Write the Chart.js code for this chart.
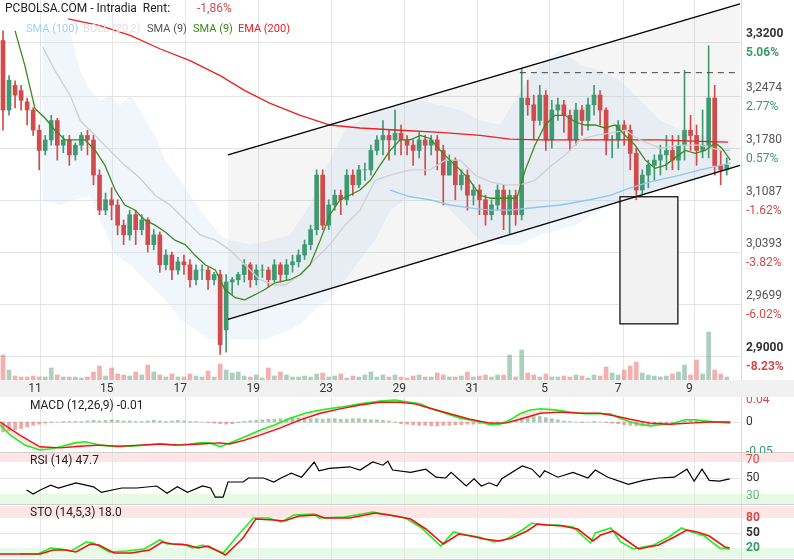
<!DOCTYPE html>
<html><head><meta charset="utf-8">
<script src="https://cdn.jsdelivr.net/npm/chart.js@4/dist/chart.umd.min.js"></script>
<style>
body{margin:0;background:#fff;width:794px;height:560px;overflow:hidden;font-family:Roboto,sans-serif}
.p{position:absolute;left:0;width:794px}
</style></head><body>
<div class="p" style="top:0;height:397px"><canvas id="main"></canvas></div>
<div class="p" style="top:397px;height:56px"><canvas id="macd"></canvas></div>
<div class="p" style="top:453px;height:52px"><canvas id="rsi"></canvas></div>
<div class="p" style="top:505px;height:55px"><canvas id="sto"></canvas></div>
<script>
const dateLabels=['11','15','17','19','23','29','31','5','7','9'];
const dateIdx=[5.3,17.2,29.4,41.5,53.6,65.7,77.8,89.8,102,113.8];
const priceTicks=[3.32,3.2474,3.178,3.1087,3.0393,2.9699,2.90];
const priceTickText=['3,3200','3,2474','3,1780','3,1087','3,0393','2,9699','2,9000'];
const pctText=['5.06%','2.77%','0.57%','-1.62%','-3.82%','-6.02%','-8.23%'];
const legendItems=['SMA (100)','BOLL (20,2)','SMA (9)','SMA (9)','EMA (200)'];
const opens=[3.322,3.229,3.262,3.255,3.240,3.229,3.202,3.175,3.189,3.215,3.182,3.189,3.169,3.182,3.195,3.189,3.142,3.095,3.109,3.102,3.075,3.062,3.089,3.069,3.082,3.049,3.062,3.022,3.035,3.015,3.026,3.022,3.002,3.015,3.015,3.002,3.009,2.935,2.999,3.002,3.009,3.022,3.002,3.015,3.015,3.002,3.022,3.009,3.022,3.026,3.035,3.049,3.069,3.142,3.075,3.102,3.115,3.109,3.142,3.129,3.149,3.149,3.175,3.189,3.195,3.189,3.198,3.189,3.182,3.175,3.189,3.182,3.189,3.175,3.142,3.162,3.129,3.142,3.115,3.122,3.109,3.089,3.102,3.122,3.089,3.115,3.089,3.245,3.236,3.215,3.249,3.189,3.229,3.236,3.222,3.189,3.229,3.215,3.236,3.249,3.229,3.189,3.189,3.209,3.202,3.171,3.122,3.142,3.155,3.162,3.169,3.175,3.162,3.182,3.202,3.195,3.175,3.182,3.245,3.155,3.149];
const closes=[3.229,3.269,3.249,3.242,3.229,3.202,3.175,3.189,3.215,3.182,3.189,3.169,3.182,3.195,3.189,3.142,3.095,3.109,3.102,3.075,3.062,3.089,3.069,3.082,3.049,3.062,3.022,3.035,3.015,3.026,3.022,3.002,3.015,3.015,3.002,3.009,2.915,2.999,3.002,3.009,3.022,3.002,3.015,3.015,3.002,3.022,3.009,3.022,3.026,3.035,3.049,3.069,3.142,3.075,3.102,3.115,3.109,3.142,3.129,3.149,3.149,3.175,3.189,3.195,3.189,3.198,3.189,3.182,3.175,3.189,3.182,3.189,3.175,3.142,3.162,3.129,3.142,3.115,3.122,3.109,3.089,3.102,3.122,3.089,3.115,3.089,3.245,3.236,3.215,3.249,3.189,3.229,3.236,3.222,3.189,3.229,3.215,3.236,3.249,3.229,3.189,3.189,3.209,3.202,3.171,3.122,3.142,3.155,3.162,3.169,3.175,3.162,3.182,3.202,3.195,3.175,3.182,3.245,3.155,3.149,3.155];
const highs=[3.335,3.275,3.268,3.262,3.245,3.232,3.209,3.195,3.222,3.218,3.195,3.195,3.185,3.199,3.202,3.195,3.149,3.118,3.125,3.109,3.082,3.095,3.095,3.089,3.085,3.069,3.066,3.042,3.039,3.032,3.035,3.029,3.022,3.022,3.019,3.012,3.015,3.009,3.005,3.012,3.029,3.025,3.022,3.022,3.019,3.029,3.025,3.029,3.035,3.042,3.055,3.075,3.149,3.149,3.109,3.122,3.122,3.149,3.149,3.155,3.158,3.182,3.195,3.215,3.202,3.229,3.209,3.195,3.189,3.199,3.195,3.195,3.195,3.182,3.169,3.165,3.149,3.149,3.129,3.129,3.115,3.109,3.129,3.129,3.122,3.122,3.285,3.269,3.249,3.262,3.255,3.242,3.245,3.242,3.229,3.238,3.235,3.245,3.262,3.255,3.232,3.195,3.215,3.215,3.209,3.178,3.149,3.162,3.169,3.182,3.195,3.195,3.195,3.282,3.222,3.209,3.229,3.315,3.262,3.175,3.165];
const lows=[3.202,3.222,3.232,3.229,3.209,3.195,3.149,3.169,3.182,3.162,3.172,3.155,3.162,3.175,3.169,3.129,3.089,3.089,3.082,3.062,3.049,3.055,3.049,3.062,3.039,3.042,3.012,3.015,3.002,3.009,3.009,2.992,2.995,3.002,2.989,2.995,2.902,2.905,2.982,2.995,2.999,2.992,2.995,3.005,2.992,2.999,2.999,3.002,3.012,3.019,3.029,3.042,3.062,3.069,3.069,3.095,3.089,3.102,3.115,3.125,3.135,3.142,3.169,3.169,3.162,3.169,3.169,3.169,3.155,3.165,3.142,3.169,3.149,3.102,3.142,3.109,3.122,3.095,3.102,3.089,3.075,3.082,3.095,3.069,3.062,3.075,3.082,3.222,3.189,3.209,3.175,3.178,3.215,3.199,3.175,3.182,3.195,3.202,3.222,3.209,3.169,3.165,3.178,3.182,3.149,3.109,3.115,3.125,3.135,3.142,3.149,3.149,3.149,3.162,3.175,3.155,3.165,3.165,3.142,3.129,3.142];
const volumes=[25,10,4,3,3,4,3,3,12,5,3,3,3,2,3,8,14,4,12,6,5,4,8,5,15,8,5,3,6,3,3,6,4,3,9,3,16,10,7,8,4,3,5,2,12,4,8,5,3,3,4,3,6,7,3,4,6,2,4,3,5,8,3,5,3,5,3,2,4,5,3,3,7,5,3,3,4,8,3,4,5,3,5,5,25,3,30,7,5,3,6,3,3,4,3,5,4,2,5,4,13,7,5,10,14,18,7,5,4,3,4,6,8,15,5,20,6,48,10,6,3];
const sma9=[[2,3.335],[3.6,3.289],[5.3,3.231],[7,3.218],[8.6,3.202],[10.3,3.189],[11.9,3.189],[13.6,3.189],[15.3,3.175],[16.9,3.155],[18.6,3.122],[20.2,3.102],[21.9,3.095],[23.5,3.082],[25.2,3.075],[26.9,3.066],[28.5,3.055],[30.2,3.049],[31.8,3.035],[33.5,3.022],[35.2,3.015],[36.8,2.989],[38.5,2.978],[40.1,2.975],[41.8,2.982],[43.4,2.989],[45.1,2.998],[47.6,3.002],[49.3,3.009],[50.9,3.022],[52.6,3.055],[54.2,3.089],[55.9,3.109],[57.5,3.115],[59.2,3.122],[60.9,3.135],[62.5,3.155],[64.2,3.175],[65.8,3.189],[67.5,3.189],[69.2,3.195],[70.8,3.191],[72.5,3.175],[74.1,3.162],[75.8,3.149],[77.4,3.135],[79.1,3.115],[80.8,3.111],[82.4,3.111],[84.1,3.111],[85.2,3.111],[86.6,3.149],[88.2,3.182],[89.9,3.209],[91.5,3.222],[93.2,3.222],[94.9,3.213],[96.5,3.209],[98.2,3.209],[99.8,3.205],[101.5,3.209],[103.2,3.195],[104.8,3.182],[106.5,3.162],[108.1,3.151],[109.8,3.155],[111.4,3.165],[113.1,3.175],[114.8,3.171],[116.4,3.175],[118.1,3.185],[119.2,3.178],[120.6,3.162]];
const sma20=[[6.6,3.313],[8.6,3.282],[11.1,3.249],[12.8,3.215],[15.3,3.195],[17.7,3.175],[20.2,3.155],[22.7,3.138],[25.2,3.115],[27.7,3.102],[30.2,3.082],[32.7,3.062],[35.2,3.055],[37.6,3.042],[40.1,3.022],[42.6,3.002],[45.1,2.995],[46.8,2.995],[49.3,3.009],[51.7,3.029],[54.2,3.049],[56.7,3.075],[59.2,3.095],[61.7,3.135],[64.2,3.142],[67.5,3.149],[70.8,3.149],[73.3,3.162],[75.8,3.162],[78.3,3.142],[80.8,3.133],[83.3,3.129],[85.7,3.129],[88.2,3.135],[90.7,3.153],[93.2,3.169],[95.7,3.189],[98.2,3.195],[100.7,3.198],[103.2,3.202],[105.6,3.189],[109,3.178],[112.3,3.182],[115.6,3.182],[118.9,3.175],[120.6,3.175]];
const ema200=[[10.8,3.351],[16.1,3.342],[21.1,3.329],[26,3.311],[31,3.295],[36,3.275],[40.1,3.255],[44.3,3.238],[49.3,3.222],[54.2,3.209],[59.2,3.205],[65.8,3.202],[72.5,3.199],[79.1,3.195],[84.1,3.190],[89.1,3.189],[95.7,3.189],[102.3,3.189],[109,3.189],[115.6,3.187],[120.2,3.186]];
const sma100=[[64.2,3.122],[67.5,3.113],[70.8,3.109],[74.1,3.102],[77.4,3.098],[80.8,3.095],[84.1,3.095],[87.4,3.098],[92.4,3.102],[97.3,3.109],[100.7,3.115],[104,3.125],[107.3,3.133],[112.3,3.142],[115.6,3.149],[120.6,3.158]];
const bollUp=[[6.6,3.335],[11.1,3.335],[12.8,3.282],[14.4,3.255],[16.1,3.242],[17.7,3.249],[19.4,3.235],[21.1,3.249],[22.7,3.229],[25.2,3.195],[26.9,3.162],[29.4,3.135],[32.7,3.095],[36,3.062],[37.6,3.055],[41,3.049],[44.3,3.055],[47.6,3.062],[50.9,3.102],[54.2,3.162],[56.7,3.202],[59.2,3.215],[62.5,3.229],[65.8,3.235],[69.2,3.242],[72.5,3.235],[75.8,3.229],[79.1,3.215],[82.4,3.209],[84.9,3.242],[87.4,3.275],[89.9,3.295],[92.4,3.309],[95.7,3.289],[99,3.282],[102.3,3.269],[105.6,3.242],[109,3.215],[112.3,3.202],[115.6,3.195],[120.6,3.189]];
const bollLo=[[6.6,3.109],[9.5,3.102],[11.9,3.109],[14.4,3.115],[16.1,3.082],[18.6,3.035],[21.1,3.022],[23.5,3.002],[26.9,2.975],[29.4,2.949],[31.8,2.935],[34.3,2.922],[36.8,2.922],[40.1,2.922],[43.4,2.922],[45.9,2.929],[49.3,2.942],[51.7,2.962],[54.2,2.975],[56.7,3.002],[59.2,3.029],[61.7,3.055],[64.2,3.095],[66.7,3.109],[69.2,3.115],[72.5,3.109],[75.8,3.082],[79.1,3.055],[82.4,3.049],[85.7,3.049],[89.1,3.062],[92.4,3.069],[94.9,3.075],[99,3.095],[102.3,3.109],[105.6,3.115],[109,3.125],[113.9,3.135],[117.2,3.142],[120.6,3.149]];
const channelUp=[[37.3,3.169],[122.2,3.371]];
const channelLo=[[37.3,2.949],[122.2,3.155]];
const resistance=[[85.7,3.279],[122,3.279]];
const boxRect=[[102.3,3.113],[111.9,2.943]];
const macdHistK=[-18,-16,-14,-12,-9,-6,-4,-2,-1,0,1,1,1,1,2,3,2,3,4,3,2,2,1,1,2,3,2,1,2,3,2,1,1,0,-1,-2,-3,-4,-3,-1,1,2,3,4,5,5,6,6,7,7,7,6,6,5,6,6,5,5,6,6,5,4,4,3,2,-1,-3,-4,-5,-6,-6,-7,-7,-6,-6,-5,-5,-4,-4,-3,-3,-3,-2,-1,0,3,7,9,10,10,8,6,4,2,1,0,-1,0,1,0,-1,-2,-3,-5,-6,-7,-7,-6,-5,-4,-3,-1,1,2,3,3,2,1,0,-1,-1];
const macdLineK=[[-0.5,-5],[1.2,-24],[3.6,-42],[6.1,-51],[7.8,-49],[9.5,-45],[11.9,-38],[13.6,-36],[16.1,-42],[18.6,-45],[21.1,-44],[23.5,-42],[26,-40],[28.5,-42],[31,-40],[32.7,-38],[34.3,-38],[36,-45],[37.6,-38],[40.1,-27],[42.6,-15],[45.1,-5],[47.6,7],[50.1,16],[52.6,22],[55.9,27],[59.2,33],[62.5,38],[65,40],[67.5,36],[69.2,33],[70.8,25],[73.3,16],[75.8,7],[78.3,2],[80.8,-5],[82.4,-4],[84.1,4],[85.7,15],[87.4,22],[89.1,24],[91.5,22],[94,18],[96.5,15],[99,15],[100.7,15],[102.3,7],[104,0],[105.6,-4],[107.3,-7],[109,-5],[110.6,-4],[113.1,4],[114.8,4],[116.4,2],[118.1,0],[120.6,-2]];
const macdSignalK=[[-0.5,0],[2.8,-24],[6.1,-45],[9.5,-47],[12.8,-44],[16.1,-42],[19.4,-44],[22.7,-42],[26,-40],[29.4,-42],[32.7,-40],[36,-38],[37.6,-40],[40.1,-33],[42.6,-24],[45.9,-11],[49.3,4],[52.6,16],[55.9,24],[59.2,31],[62.5,36],[65.8,36],[68.3,33],[70.8,25],[74.1,15],[77.4,5],[80.8,-2],[83.3,-2],[85.7,5],[89.1,16],[92.4,18],[95.7,16],[99,16],[101.5,11],[104,5],[107.3,-2],[110.6,-4],[113.9,-2],[117.2,0],[120.6,0]];
const rsiPts=[[3.9,35],[5,30],[6.2,35],[7.9,41],[9.2,37.5],[12.1,44],[15,39],[16.3,32],[19.7,37.5],[22.2,37.5],[25.5,40],[27.2,31],[28.9,39],[30.6,32],[33.1,40],[34.4,37.5],[35.2,26],[36.5,26],[37.3,45],[39.8,45],[40.7,50],[43.2,50],[44.9,45],[46.1,50],[47.8,56],[49.5,51],[51.6,70],[52.4,59],[54.1,62],[57.5,64],[59.2,60],[61.3,70],[63,66],[63.8,71],[64.6,60],[67.6,57],[70.1,61],[71.8,51],[73.4,50],[74.3,57],[76.8,40],[78.1,49],[79.3,40],[80.6,44],[81.9,40],[82.7,49],[86.1,65],[87.7,61],[89,51],[89.8,59],[92,51],[94.5,57],[97,50],[98.2,60],[100.3,51],[103.7,42],[106.2,47],[108.7,50],[111.3,51],[113.4,61],[114.6,46],[115.9,61],[117.1,47],[118.8,46],[120.5,49]];
const stoK=[[2.9,8],[5.8,8],[7.9,20],[9.6,18],[11.3,14],[13.8,32],[15,30],[17.6,12],[20.5,14],[23.4,18],[26,36],[27.2,28],[29.8,28],[31.4,20],[33.1,26],[36.5,10],[39,46],[41.5,80],[44,80],[46.1,72],[48.2,86],[51.6,88],[52.4,80],[56.6,82],[61.3,92],[64.2,86],[66.7,80],[69.2,62],[72.6,24],[74.7,52],[76.8,46],[78.9,42],[81.4,32],[83.5,38],[86.1,56],[87.7,70],[89.4,66],[92,66],[94.5,62],[97.4,30],[98.2,50],[100.8,60],[102.4,32],[104.5,18],[107.9,26],[110.4,42],[112.5,60],[114.2,52],[116.3,44],[118.8,20],[120.5,18]];
const stoD=[[-0.5,8],[2.4,8],[6.2,8],[8.3,16],[10.4,16],[12.1,12],[14.5,28],[15.9,26],[18.4,10],[21.3,10],[24.3,16],[26.4,32],[28.1,28],[30.6,26],[32.3,20],[34,24],[36.9,6],[39.8,40],[41.9,78],[44.9,76],[46.6,74],[49.1,84],[52,86],[53.3,80],[57.5,80],[61.7,90],[65,84],[67.6,78],[70.1,58],[73,28],[75.6,48],[77.6,44],[79.8,38],[82.3,34],[84.4,40],[86.9,54],[88.6,68],[90.3,66],[92.8,64],[95.3,58],[97.8,34],[99.1,46],[101.2,54],[103.3,36],[105.4,18],[108.7,26],[111.3,42],[113.4,56],[115.1,52],[117.1,44],[119.7,22],[120.5,20]];

const GREEN='#3f9a72', RED='#d24a4a', FONT='Roboto, sans-serif';
const XMIN=-0.5, XMAX=122.2;
const pts=a=>a.map(p=>({x:p[0],y:p[1]}));
const idx=closes.map((_,i)=>i);
const up=idx.map(i=>closes[i]>=opens[i]);
function xScale(){return {type:'linear',min:XMIN,max:XMAX,display:false,offset:false,grid:{offset:false}};}
const baseOpts=(extra)=>Object.assign({responsive:false,animation:false,maintainAspectRatio:false,
  layout:{padding:{left:0,right:54,top:0,bottom:0}},
  plugins:{legend:{display:false},tooltip:{enabled:false}}},extra);
function line(data,color,w,yid){return {type:'line',data:pts(data),borderColor:color,borderWidth:w||1.2,pointRadius:0,tension:0,fill:false,yAxisID:yid||'y',order:1};}
function poly(ctx,chart,a,b){const xs=chart.scales.x,ys=chart.scales.y;ctx.beginPath();
  a.forEach((p,k)=>{const X=xs.getPixelForValue(p[0]),Y=ys.getPixelForValue(p[1]);k?ctx.lineTo(X,Y):ctx.moveTo(X,Y);});
  b.slice().reverse().forEach(p=>ctx.lineTo(xs.getPixelForValue(p[0]),ys.getPixelForValue(p[1])));ctx.closePath();}
function vgrid(ctx,chart,top,bot){const xs=chart.scales.x;ctx.strokeStyle='#e6e6e6';ctx.lineWidth=1;
  dateIdx.forEach(d=>{const X=Math.round(xs.getPixelForValue(d+0.8))+0.5;ctx.beginPath();ctx.moveTo(X,top);ctx.lineTo(X,bot);ctx.stroke();});}

function setup(id,w,h){const c=document.getElementById(id);c.width=w;c.height=h;c.style.width=w+'px';c.style.height=h+'px';return c;}

const mainCanvas=setup('main',794,397);
new Chart(mainCanvas,{type:'bar',
 data:{datasets:[
  line(sma9,'#3d8a1a',1.3),line(sma20,'#cfcfcf',1.3),line(ema200,'#ee2020',1.3),line(sma100,'#8cc8f0',1.3),
  {type:'bar',data:idx.map(i=>({x:i,y:[opens[i],closes[i]]})),backgroundColor:idx.map(i=>up[i]?GREEN:RED),barThickness:4,grouped:false,order:2,yAxisID:'y'},
  {type:'bar',data:idx.map(i=>({x:i,y:[lows[i],highs[i]]})),backgroundColor:idx.map(i=>up[i]?GREEN:RED),barThickness:1,grouped:false,order:3,yAxisID:'y'},
  {type:'bar',data:idx.map(i=>({x:i,y:volumes[i]})),backgroundColor:idx.map(i=>up[i]?'rgba(90,160,125,0.5)':'rgba(235,110,110,0.55)'),barThickness:4,grouped:false,order:5,yAxisID:'v'}
 ]},
 options:baseOpts({layout:{padding:{left:0,right:54,top:0,bottom:17}},
  scales:{x:xScale(),y:{min:2.8679,max:3.3762,display:false},v:{min:0,max:380,display:false}}}),
 plugins:[{id:'mainDeco',
  beforeDatasetsDraw(chart){const ctx=chart.ctx,ys=chart.scales.y,xs=chart.scales.x;ctx.save();
   vgrid(ctx,chart,0,380);
   ctx.strokeStyle='#e4e4e4';priceTicks.forEach(p=>{const Y=Math.round(ys.getPixelForValue(p))+0.5;ctx.beginPath();ctx.moveTo(0,Y);ctx.lineTo(744,Y);ctx.stroke();});
   poly(ctx,chart,bollUp,bollLo);ctx.fillStyle='rgba(210,225,245,0.3)';ctx.fill();
   poly(ctx,chart,channelUp,channelLo);ctx.fillStyle='rgba(0,0,0,0.04)';ctx.fill();
   const bx1=xs.getPixelForValue(boxRect[0][0]),bx2=xs.getPixelForValue(boxRect[1][0]),by1=ys.getPixelForValue(boxRect[0][1]),by2=ys.getPixelForValue(boxRect[1][1]);
   ctx.fillStyle='#f2f2f2';ctx.fillRect(bx1,by1,bx2-bx1,by2-by1);ctx.strokeStyle='#000';ctx.lineWidth=1.2;ctx.strokeRect(bx1,by1,bx2-bx1,by2-by1);
   ctx.restore();},
  afterDatasetsDraw(chart){const ctx=chart.ctx,ys=chart.scales.y,xs=chart.scales.x;ctx.save();
   ctx.strokeStyle='#000';ctx.lineWidth=1.4;
   [channelUp,channelLo].forEach(l=>{ctx.beginPath();ctx.moveTo(xs.getPixelForValue(l[0][0]),ys.getPixelForValue(l[0][1]));ctx.lineTo(xs.getPixelForValue(l[1][0]),ys.getPixelForValue(l[1][1]));ctx.stroke();});
   ctx.setLineDash([6,5]);ctx.strokeStyle='#444';ctx.lineWidth=1;ctx.beginPath();
   ctx.moveTo(xs.getPixelForValue(resistance[0][0]),ys.getPixelForValue(resistance[0][1]));ctx.lineTo(xs.getPixelForValue(resistance[1][0]),ys.getPixelForValue(resistance[1][1]));ctx.stroke();ctx.setLineDash([]);
   ctx.fillStyle='#fff';ctx.fillRect(742,0,52,380);
   ctx.strokeStyle='#ddd';ctx.beginPath();ctx.moveTo(741.5,0);ctx.lineTo(741.5,380);ctx.stroke();
   priceTicks.forEach((p,k)=>{const Y=ys.getPixelForValue(p);const bold=(k==0||k==6);
    ctx.font=(bold?'bold ':'')+'12px '+FONT;ctx.fillStyle=bold?'#333':'#555';ctx.textBaseline='middle';ctx.textAlign='left';
    ctx.fillText(priceTickText[k],746,Y-8);
    ctx.fillStyle=pctText[k][0]=='-'?'#d24a4a':'#3a9a6a';ctx.fillText(pctText[k],746,Y+11);});
   ctx.fillStyle='#f1f1f1';ctx.fillRect(0,380,794,17);
   ctx.font='12px '+FONT;ctx.fillStyle='#333';ctx.textAlign='center';ctx.textBaseline='middle';
   dateIdx.forEach((d,k)=>ctx.fillText(dateLabels[k],xs.getPixelForValue(d),389));
   ctx.textAlign='left';ctx.font='12px '+FONT;ctx.fillStyle='#222';ctx.fillText('PCBOLSA.COM - Intradia  Rent:',5,9);
   ctx.fillStyle='#d24a4a';ctx.fillText('-1,86%',197,9);
   ctx.font='11px '+FONT;
   const lx=[26,83,147,193,238],lc=['#9fd0f5','#e0e0e0','#555','#3d8a1a','#ee2020'];
   legendItems.forEach((t,k)=>{ctx.fillStyle=lc[k];ctx.fillText(t,lx[k],29);});
   ctx.restore();}}]
});

function panelDeco(title,labels,bands,grids,extraFill){return {id:'pd'+title.slice(0,3),
  beforeDatasetsDraw(chart){const ctx=chart.ctx,ys=chart.scales.y;ctx.save();
   bands.forEach(b=>{const y1=ys.getPixelForValue(b[0]),y2=ys.getPixelForValue(b[1]);ctx.fillStyle=b[2];ctx.fillRect(0,y1,794,y2-y1);});
   vgrid(ctx,chart,0,chart.height);
   ctx.strokeStyle='#e4e4e4';grids.forEach(g=>{const Y=Math.round(ys.getPixelForValue(g))+0.5;ctx.beginPath();ctx.moveTo(0,Y);ctx.lineTo(742,Y);ctx.stroke();});
   if(extraFill)extraFill(ctx,chart);
   ctx.restore();},
  afterDatasetsDraw(chart){const ctx=chart.ctx,ys=chart.scales.y;ctx.save();
   ctx.strokeStyle='#ddd';ctx.beginPath();ctx.moveTo(741.5,0);ctx.lineTo(741.5,chart.height);ctx.stroke();
   ctx.strokeStyle='#d0d0d0';ctx.beginPath();ctx.moveTo(0,chart.height-0.5);ctx.lineTo(794,chart.height-0.5);ctx.stroke();
   ctx.font='12px '+FONT;ctx.fillStyle='#222';ctx.textBaseline='middle';ctx.textAlign='left';ctx.fillText(title,30,title.startsWith('MACD')?9:8);
   labels.forEach(l=>{ctx.font=(l[3]?'bold ':'')+'12px '+FONT;ctx.fillStyle=l[2];ctx.fillText(l[1],746,ys.getPixelForValue(l[0]));});
   ctx.restore();}};}

setup('macd',794,56);
new Chart(document.getElementById('macd'),{type:'bar',
 data:{datasets:[
  {type:'line',data:pts(macdLineK),borderColor:'#22ee22',borderWidth:1.6,pointRadius:0,order:2},
  {type:'line',data:pts(macdSignalK),borderColor:'#ee1111',borderWidth:1.4,pointRadius:0,order:1},
  {type:'bar',data:idx.map(i=>({x:i,y:macdHistK[i]})),backgroundColor:idx.map(i=>macdHistK[i]>=0?'rgba(110,165,130,0.6)':'rgba(225,110,110,0.6)'),barThickness:3,order:3}
 ]},
 options:baseOpts({scales:{x:xScale(),y:{min:-56.4,max:45.5,display:false}}}),
 plugins:[panelDeco('MACD (12,26,9) -0.01',[[40,'0.04','#d24a4a'],[0,'0','#333'],[-55,'-0.05','#3a9a6a']],[],[0],
  (ctx,chart)=>{poly(ctx,chart,macdLineK,macdSignalK);ctx.fillStyle='rgba(240,130,130,0.22)';ctx.fill();})]
});

setup('rsi',794,52);
new Chart(document.getElementById('rsi'),{type:'line',
 data:{datasets:[{data:pts(rsiPts),borderColor:'#000',borderWidth:1.2,pointRadius:0}]},
 options:baseOpts({scales:{x:xScale(),y:{min:16.25,max:81.25,display:false}}}),
 plugins:[panelDeco('RSI (14) 47.7',[[72,'70','#d24a4a'],[50,'50','#333'],[27,'30','#6ab88a']],[[81.25,70,'rgba(255,90,90,0.15)'],[30,16.25,'rgba(90,220,90,0.15)']],[50])]
});

setup('sto',794,55);
new Chart(document.getElementById('sto'),{type:'line',
 data:{datasets:[{data:pts(stoD),borderColor:'#ee1111',borderWidth:1.6,pointRadius:0,order:1},{data:pts(stoK),borderColor:'#22ee22',borderWidth:1.6,pointRadius:0,order:2}]},
 options:baseOpts({scales:{x:xScale(),y:{min:-4,max:106,display:false}}}),
 plugins:[panelDeco('STO (14,5,3) 18.0',[[80,'80','#d24a4a',1],[50,'50','#333',1],[20,'20','#3a9a6a',1]],[[104,80,'rgba(255,90,90,0.15)'],[20,0,'rgba(90,220,90,0.15)']],[50])]
});
</script></body></html>
